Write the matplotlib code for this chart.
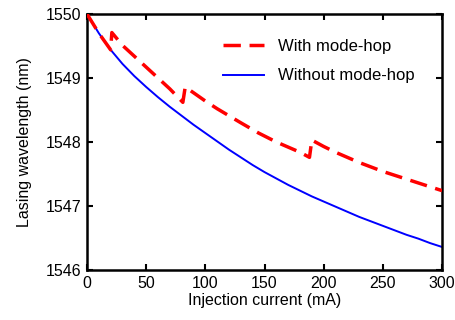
import matplotlib
matplotlib.use("Agg")
import matplotlib.pyplot as plt

plt.rcParams["font.family"] = ["Liberation Sans", "DejaVu Sans"]

# current (mA) and lasing wavelength (nm)
current_smooth = [0, 10, 20, 30, 40, 50, 60, 70, 80, 90, 100, 110, 120, 130, 140, 150,
                  160, 170, 180, 190, 200, 210, 220, 230, 240, 250, 260, 270, 280, 290, 300]
wl_smooth = [1550.0, 1549.70, 1549.44, 1549.22, 1549.03, 1548.86, 1548.70, 1548.55,
             1548.41, 1548.27, 1548.14, 1548.01, 1547.88, 1547.76, 1547.64, 1547.53,
             1547.43, 1547.33, 1547.24, 1547.15, 1547.07, 1546.99, 1546.91, 1546.83,
             1546.76, 1546.69, 1546.62, 1546.55, 1546.49, 1546.42, 1546.36]

current_hop = [0, 10, 20,
               21, 30, 40, 50, 60, 70, 81,
               83, 90, 100, 110, 120, 130, 145, 160, 170, 180, 188,
               190, 200, 210, 220, 230, 240, 250, 260, 275, 290, 300]
wl_hop = [1550.0, 1549.70, 1549.44,
          1549.71, 1549.51, 1549.34, 1549.17, 1549.00, 1548.83, 1548.62,
          1548.86, 1548.77, 1548.64, 1548.52, 1548.41, 1548.30, 1548.14, 1548.00,
          1547.92, 1547.84, 1547.76,
          1548.03, 1547.93, 1547.84, 1547.76, 1547.68, 1547.61, 1547.54, 1547.48,
          1547.39, 1547.30, 1547.24]

x_ticks = [0, 50, 100, 150, 200, 250, 300]
y_ticks = [1546, 1547, 1548, 1549, 1550]

fig = plt.figure(figsize=(4.56, 3.2), dpi=100)
ax = fig.add_axes([87 / 456, 50 / 320, 355 / 456, 256 / 320])

ax.plot(current_hop, wl_hop, color="#ff0000", lw=2.5, dashes=(5.0, 2.5),
        label="With mode-hop", zorder=3)
ax.plot(current_smooth, wl_smooth, color="#0000ff", lw=1.4, label="Without mode-hop",
        zorder=2)

ax.set_xlim(0, 300)
ax.set_ylim(1546, 1550)
ax.set_xticks(x_ticks)
ax.set_yticks(y_ticks)
ax.tick_params(direction="in", length=4, width=1.5, top=True, right=True,
               labelsize=11.5, pad=4)
for s in ax.spines.values():
    s.set_linewidth(1.8)

ax.set_xlabel("Injection current (mA)", fontsize=11.5, labelpad=2)
ax.set_ylabel("Lasing wavelength (nm)", fontsize=11.5, labelpad=10)

ax.legend(loc="upper left", bbox_to_anchor=(0.34, 0.96), frameon=False,
          fontsize=12, handlelength=2.5, handletextpad=0.8, labelspacing=0.85)

fig.savefig("out.png", dpi=100)
